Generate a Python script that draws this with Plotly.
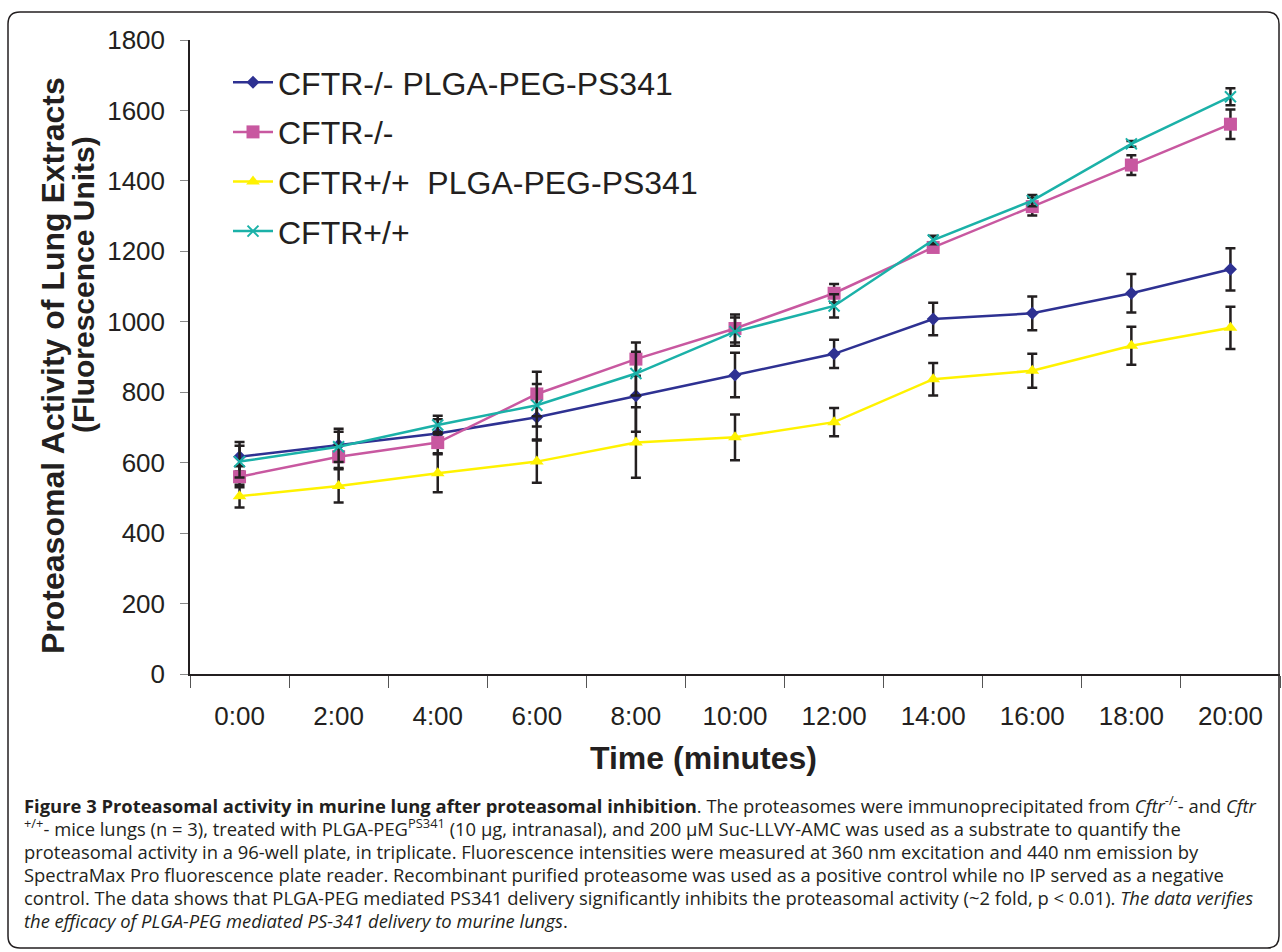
import plotly.graph_objects as go

# ---------------- data ----------------
times = ["0:00", "2:00", "4:00", "6:00", "8:00", "10:00", "12:00", "14:00", "16:00", "18:00", "20:00"]

ko_ps341 = [617, 650, 683, 729, 790, 849, 909, 1008, 1024, 1081, 1149]
ko_ps341_err = [42, 46, 40, 63, 102, 63, 40, 46, 48, 55, 60]

ko = [560, 617, 657, 795, 894, 981, 1081, 1211, 1327, 1445, 1561]
ko_err = [30, 32, 30, 63, 47, 40, 26, 12, 25, 28, 42]

wt_ps341 = [505, 534, 570, 603, 657, 672, 715, 837, 861, 932, 983]
wt_ps341_err = [32, 47, 54, 60, 100, 65, 40, 46, 48, 54, 60]

wt = [603, 645, 707, 763, 853, 972, 1045, 1232, 1344, 1505, 1639]
wt_err = [45, 43, 26, 60, 62, 40, 33, 12, 16, 8, 24]

series_names = ["CFTR-/- PLGA-PEG-PS341", "CFTR-/-", "CFTR+/+  PLGA-PEG-PS341", "CFTR+/+"]
y_ticks = [0, 200, 400, 600, 800, 1000, 1200, 1400, 1600, 1800]

caption_lines = [
    "<b>Figure 3 Proteasomal activity in murine lung after proteasomal inhibition</b>. The proteasomes were immunoprecipitated from <i>Cftr</i><sup>-/-</sup>- and <i>Cftr</i>",
    "<sup>+/+</sup>- mice lungs (n = 3), treated with PLGA-PEG<sup>PS341</sup> (10 µg, intranasal), and 200 µM Suc-LLVY-AMC was used as a substrate to quantify the",
    "proteasomal activity in a 96-well plate, in triplicate. Fluorescence intensities were measured at 360 nm excitation and 440 nm emission by",
    "SpectraMax Pro fluorescence plate reader. Recombinant purified proteasome was used as a positive control while no IP served as a negative",
    "control. The data shows that PLGA-PEG mediated PS341 delivery significantly inhibits the proteasomal activity (~2 fold, p &lt; 0.01). <i>The data verifies</i>",
    "<i>the efficacy of PLGA-PEG mediated PS-341 delivery to murine lungs</i>.",
]

# ---------------- layout geometry ----------------
W, H = 1282, 952
ML, MR, MT, MB = 190, 2, 40, 278
PW, PH = W - ML - MR, H - MT - MB


def px2x(px):
    return (px - ML) / PW


def py2y(py):
    return (H - MB - py) / PH


FONT = "Liberation Sans, Arial, sans-serif"
ERRC = "#231f20"

fig = go.Figure()

styles = [
    (ko_ps341, ko_ps341_err, "#2e3192", dict(symbol="diamond", size=10)),
    (ko, ko_err, "#c858a0", dict(symbol="square", size=13)),
    (wt_ps341, wt_ps341_err, "#fff200", dict(symbol="triangle-up", size=12)),
    (wt, wt_err, "#1bb1a8", dict(symbol="x-thin", size=11, line=dict(width=2, color="#1bb1a8"))),
]

for i, (vals, errs, col, mk) in enumerate(styles):
    fig.add_trace(go.Scatter(
        x=times, y=vals, name=series_names[i], mode="lines+markers",
        line=dict(color=col, width=2.5),
        marker=dict(color=col, **mk),
        error_y=dict(type="data", array=errs, visible=True, color=ERRC, thickness=2.5, width=5),
        legendgroup=f"g{i}",
    ))

fig.update_layout(
    width=W, height=H, autosize=False,
    margin=dict(l=ML, r=MR, t=MT, b=MB, pad=0),
    paper_bgcolor="white", plot_bgcolor="white",
    font=dict(family=FONT, color="#231f20"),
    showlegend=True,
    legend=dict(x=px2x(228), y=py2y(55), xanchor="left", yanchor="top",
                font=dict(size=32, family=FONT, color="#231f20"),
                bgcolor="rgba(0,0,0,0)", tracegroupgap=5, itemwidth=40),
    xaxis=dict(type="category", range=[-0.5, 10.5], showline=True, linecolor="#231f20", linewidth=1.5,
               ticks="outside", tickson="boundaries", ticklen=12, tickcolor="#555", tickwidth=1,
               tickfont=dict(size=26, family=FONT, color="#231f20"), ticklabelstandoff=18,
               showgrid=False, zeroline=False),
    yaxis=dict(range=[0, 1800], tickvals=y_ticks, showline=True, linecolor="#231f20", linewidth=1.5,
               ticks="outside", ticklen=8, tickcolor="#888", tickwidth=1,
               tickfont=dict(size=26, family=FONT, color="#231f20"), ticklabelstandoff=10,
               showgrid=False, zeroline=False),
)

# axis titles as annotations
fig.add_annotation(text="<b>Time (minutes)</b>", xref="paper", yref="paper",
                   x=px2x(703), y=py2y(758), xanchor="center", yanchor="middle",
                   showarrow=False, font=dict(size=32, family=FONT, color="#231f20"))
fig.add_annotation(text="<b>Proteasomal Activity of Lung Extracts</b>", xref="paper", yref="paper",
                   x=px2x(53), y=py2y(366), xanchor="center", yanchor="middle", textangle=-90,
                   showarrow=False, font=dict(size=32, family=FONT, color="#231f20"))
fig.add_annotation(text="<b>(Fluorescence Units)</b>", xref="paper", yref="paper",
                   x=px2x(83), y=py2y(285), xanchor="center", yanchor="middle", textangle=-90,
                   showarrow=False, font=dict(size=30, family=FONT, color="#231f20"))

# caption
cap_y = [804, 827, 851, 874, 897, 920]
for line, cy in zip(caption_lines, cap_y):
    fig.add_annotation(text=line, xref="paper", yref="paper", x=px2x(22), y=py2y(cy),
                       xanchor="left", yanchor="middle", showarrow=False, align="left",
                       font=dict(size=18.4, family="Open Sans, sans-serif", color="#231f20"))

# rounded border frame
x0, x1, y0, y1, r = px2x(8), px2x(1279), py2y(12), py2y(948), 12
rx, ry = r / PW, r / PH
path = (f"M {x0+rx},{y0} L {x1-rx},{y0} Q {x1},{y0} {x1},{y0-ry} L {x1},{y1+ry} "
        f"Q {x1},{y1} {x1-rx},{y1} L {x0+rx},{y1} Q {x0},{y1} {x0},{y1+ry} L {x0},{y0-ry} "
        f"Q {x0},{y0} {x0+rx},{y0} Z")
fig.add_shape(type="path", path=path, xref="paper", yref="paper",
              line=dict(color="#231f20", width=1.5), layer="below")

fig.write_html("out.html", config={"displayModeBar": False},
               post_script="document.body.style.margin='0';document.body.style.overflow='hidden';")
